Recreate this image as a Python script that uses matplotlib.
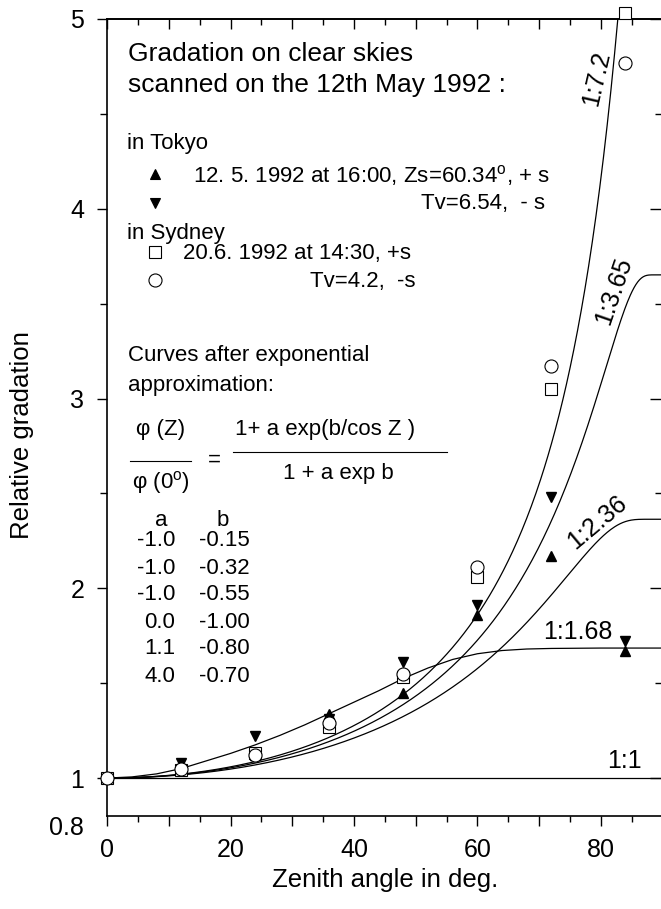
import numpy as np
import matplotlib
matplotlib.use("Agg")
import matplotlib.pyplot as plt
from matplotlib.ticker import MultipleLocator, FixedLocator, FuncFormatter

plt.rcParams['font.family'] = ['Liberation Sans', 'DejaVu Sans']

W, H = 661, 909

# measurement angles (deg)
zenith = [0, 12, 24, 36, 48, 60, 72, 84]
tokyo_plus = [1.0, 1.05, 1.12, 1.34, 1.45, 1.86, 2.17, 1.67]
tokyo_minus = [1.0, 1.08, 1.22, 1.31, 1.61, 1.91, 2.48, 1.72]
sydney_plus = [1.0, 1.04, 1.13, 1.27, 1.53, 2.06, 3.05, 5.03]
sydney_minus = [1.0, 1.05, 1.12, 1.29, 1.55, 2.11, 3.17, 4.77]

# exponential approximation parameters
coef_a = [-1.0, -1.0, -1.0, 0.0, 1.1, 4.0]
coef_b = [-0.15, -0.32, -0.55, -1.00, -0.80, -0.70]
exp_curves = [0, 1, 2, 3]   # rows drawn with the formula
curve_labels = ['1:7.2', '1:3.65', '1:2.36', '1:1']

# the 1:1.68 curve
z168 = [0, 4, 8, 12, 16, 20, 24, 28, 32, 36, 40, 44, 48, 52, 56, 60, 64, 68, 72, 80, 90]
g168 = [1.0, 1.006, 1.022, 1.05, 1.09, 1.13, 1.175, 1.225, 1.28, 1.34, 1.40, 1.46,
        1.525, 1.58, 1.625, 1.655, 1.672, 1.68, 1.683, 1.685, 1.685]

fig = plt.figure(figsize=(W / 100, H / 100), dpi=100)
left, right, bottom, top = 107.3, 662.4, 816, 19
ax = fig.add_axes([left / W, 1 - bottom / H, (right - left) / W, (bottom - top) / H])


def px(x, y):
    return x / W, 1 - y / H


z = np.linspace(0, 89.9, 600)
for i in exp_curves:
    a, b = coef_a[i], coef_b[i]
    g = (1 + a * np.exp(b / np.cos(np.radians(z)))) / (1 + a * np.exp(b))
    ax.plot(z, g, color='black', lw=0.9, zorder=2)
ax.plot(z168, g168, color='black', lw=0.9, zorder=2)

ax.plot(zenith, tokyo_plus, ls='none', marker='^', ms=6.5, color='black', zorder=3)
ax.plot(zenith, tokyo_minus, ls='none', marker='v', ms=6.5, color='black', zorder=3)
ax.plot(zenith, sydney_plus, ls='none', marker='s', ms=8.2, mfc='white', mec='black',
        mew=0.8, zorder=4, clip_on=False)
ax.plot(zenith, sydney_minus, ls='none', marker='o', ms=9.4, mfc='white', mec='black',
        mew=0.8, zorder=5, clip_on=False)

ax.set_xlim(0, 90)
ax.set_ylim(0.8, 5)
for s in ax.spines.values():
    s.set_linewidth(1.2)

ax.xaxis.set_major_locator(MultipleLocator(10))
ax.xaxis.set_minor_locator(MultipleLocator(5))
ax.xaxis.set_major_formatter(FuncFormatter(lambda v, p: f'{v:.0f}' if v % 20 == 0 else ''))
ax.yaxis.set_major_locator(FixedLocator([1, 2, 3, 4, 5]))
ax.yaxis.set_minor_locator(MultipleLocator(0.5))
ax.tick_params(axis='x', which='major', direction='out', length=7.5, width=1, labelsize=18, pad=8)
ax.tick_params(axis='x', which='minor', direction='out', length=4, width=1)
ax.tick_params(axis='y', which='major', direction='out', length=7.5, width=1, labelsize=18, pad=9)
ax.tick_params(axis='y', which='minor', direction='out', length=5, width=1)

ax.text(-0.043, 0.8, '0.8', transform=ax.get_yaxis_transform(), ha='right', va='top',
        fontsize=18)

top_ax = ax.secondary_xaxis('top')
top_ax.xaxis.set_major_locator(MultipleLocator(10))
top_ax.xaxis.set_minor_locator(MultipleLocator(5))
top_ax.tick_params(which='major', direction='in', length=7.5, width=1, labeltop=False)
top_ax.tick_params(which='minor', direction='in', length=4.5, width=1)
top_ax.spines['top'].set_linewidth(1.2)

right_ax = ax.secondary_yaxis('right')
right_ax.yaxis.set_major_locator(FixedLocator([1, 2, 3, 4, 5]))
right_ax.yaxis.set_minor_locator(MultipleLocator(0.5))
right_ax.tick_params(which='major', direction='in', length=8.5, width=1, labelright=False)
right_ax.tick_params(which='minor', direction='in', length=5, width=1)

fig.text(*px(385, 880), 'Zenith angle in deg.', fontsize=18.5, ha='center', va='center')
fig.text(*px(22, 435), 'Relative gradation', fontsize=18.5, ha='center', va='center',
         rotation=90)

# legend block
fig.text(*px(128, 54), 'Gradation on clear skies', fontsize=19, va='center')
fig.text(*px(128, 85), 'scanned on the 12th May 1992 :', fontsize=19, va='center')
fig.text(*px(127, 143), 'in Tokyo', fontsize=16, va='center')
fig.text(*px(193, 176), '12. 5. 1992 at 16:00, Zs=60.34$^{\\mathregular{o}}$, + s', fontsize=16,
         va='center')
fig.text(*px(545, 204), 'Tv=6.54,  - s', fontsize=16, va='center', ha='right')
fig.text(*px(127, 233), 'in Sydney', fontsize=16, va='center')
fig.text(*px(183, 253), '20.6. 1992 at 14:30, +s', fontsize=16, va='center')
fig.text(*px(310, 281), 'Tv=4.2,  -s', fontsize=16, va='center')

legend_marks = [('^', 174, 6.5, 'black'), ('v', 203, 6.5, 'black'),
                ('s', 252, 8.2, 'white'), ('o', 280, 9.4, 'white')]
for m, yy, ms, fc in legend_marks:
    ax.plot([px(155, yy)[0]], [px(155, yy)[1]], marker=m, ms=ms, mfc=fc, mec='black',
            mew=0.8, transform=fig.transFigure, clip_on=False)

fig.text(*px(128, 356), 'Curves after exponential', fontsize=16, va='center')
fig.text(*px(128, 385), 'approximation:', fontsize=16, va='center')

fig.text(*px(161, 430), '\u03c6 (Z)', fontsize=16, va='center', ha='center')
fig.text(*px(161, 482), '\u03c6 (0$^{\\mathregular{o}}$)', fontsize=16, va='center', ha='center')
fig.text(*px(214, 460), '=', fontsize=16, va='center', ha='center')
fig.text(*px(235, 430), '1+ a exp(b/cos Z )', fontsize=16, va='center')
fig.text(*px(338, 474), '1 + a exp b', fontsize=16, va='center', ha='center')
for x0, x1, yy in [(130, 191, 461), (233, 447, 452)]:
    ax.plot([px(x0, yy)[0], px(x1, yy)[0]], [px(x0, yy)[1], px(x1, yy)[1]],
            color='black', lw=0.8, transform=fig.transFigure, clip_on=False)

fig.text(*px(161, 521), 'a', fontsize=16, va='center', ha='center')
fig.text(*px(223, 521), 'b', fontsize=16, va='center', ha='center')
for k in range(len(coef_a)):
    yy = 541 + 27 * k
    fig.text(*px(175, yy), f'{coef_a[k]:.1f}', fontsize=16, va='center', ha='right')
    fig.text(*px(250, yy), f'{coef_b[k]:.2f}', fontsize=16, va='center', ha='right')

# curve labels
fig.text(*px(597, 78), curve_labels[0], fontsize=18, rotation=77, ha='center', va='center')
fig.text(*px(614, 291), curve_labels[1], fontsize=18, rotation=71, ha='center', va='center')
fig.text(*px(597, 522), curve_labels[2], fontsize=18, rotation=40, ha='center', va='center')
fig.text(*px(578, 632), '1:1.68', fontsize=18, ha='center', va='center')
fig.text(*px(624, 761), curve_labels[3], fontsize=18, ha='center', va='center')

fig.savefig('out.png', dpi=100)
